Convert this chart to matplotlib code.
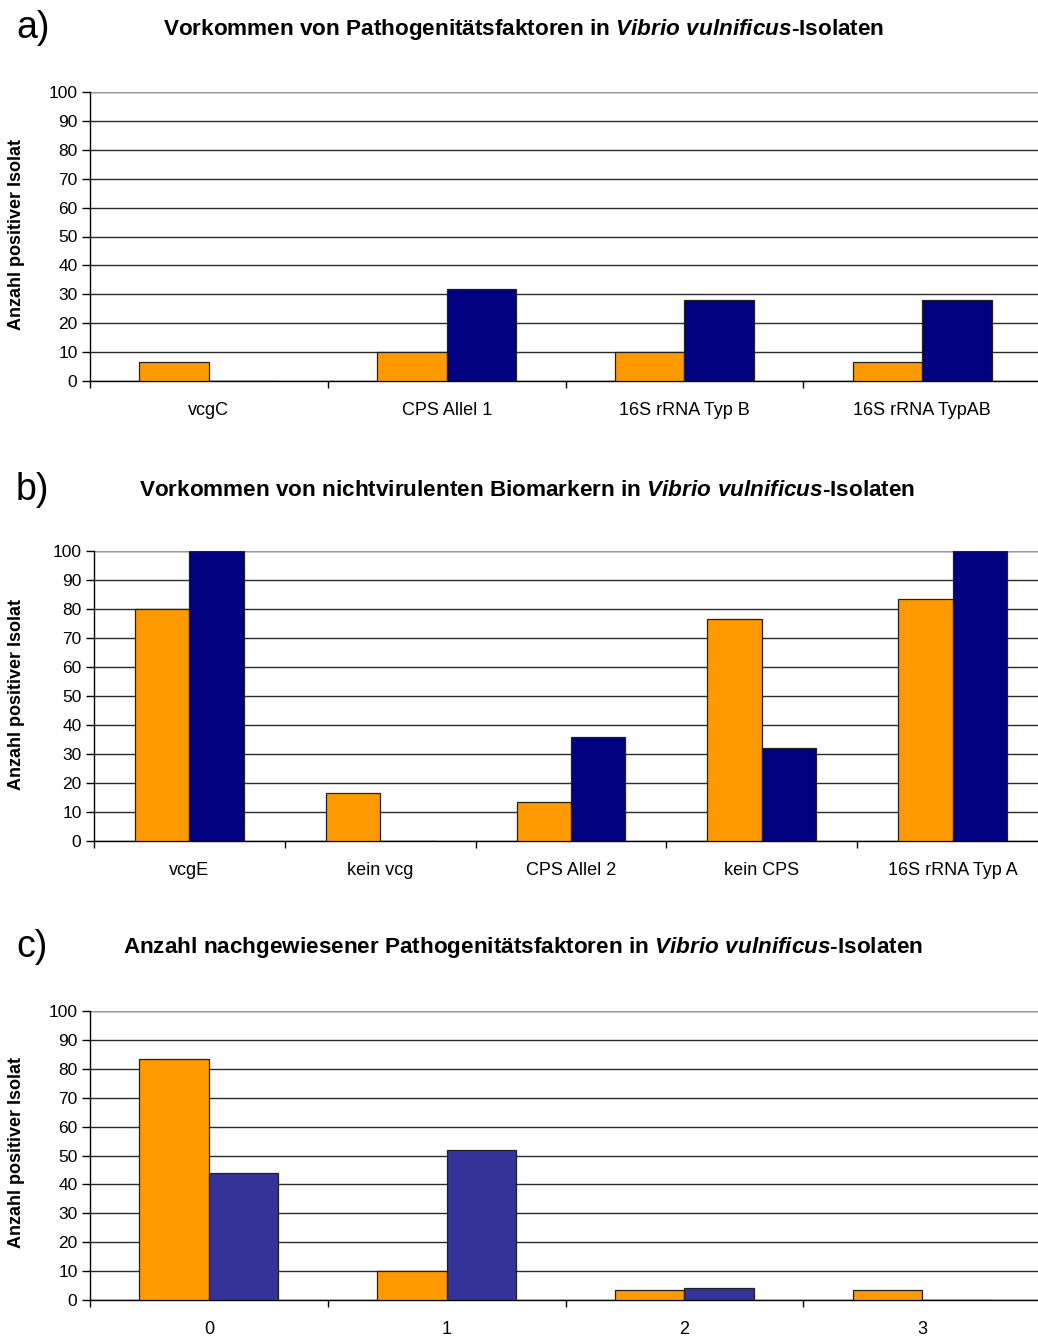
import matplotlib
matplotlib.use("Agg")
import matplotlib.pyplot as plt
import numpy as np

plt.rcParams['font.family'] = ['Liberation Sans', 'DejaVu Sans']
plt.rcParams['mathtext.fontset'] = 'custom'
plt.rcParams['mathtext.rm'] = 'Liberation Sans:bold'
plt.rcParams['mathtext.it'] = 'Liberation Sans:bold:italic'

# panel a
cats_a = ['vcgC', 'CPS Allel 1', '16S rRNA Typ B', '16S rRNA TypAB']
orange_a = [6.7, 10, 10, 6.7]
navy_a = [0, 32, 28, 28]
# panel b
cats_b = ['vcgE', 'kein vcg', 'CPS Allel 2', 'kein CPS', '16S rRNA Typ A']
orange_b = [80, 16.7, 13.3, 76.7, 83.3]
navy_b = [100, 0, 36, 32, 100]
# panel c
cats_c = ['0', '1', '2', '3']
orange_c = [83.3, 10, 3.3, 3.3]
navy_c = [44, 52, 4, 0]

titles = [
    r'Vorkommen von Pathogenitätsfaktoren in $\mathit{Vibrio\ vulnificus}$-Isolaten',
    r'Vorkommen von nichtvirulenten Biomarkern in $\mathit{Vibrio\ vulnificus}$-Isolaten',
    r'Anzahl nachgewiesener Pathogenitätsfaktoren in $\mathit{Vibrio\ vulnificus}$-Isolaten',
]
letters = ['a)', 'b)', 'c)']
yticks = np.arange(0, 101, 10)

W, H = 1038, 1336
ORANGE = '#FF9900'
NAVY = '#000080'
NAVY_C = '#333399'

fig = plt.figure(figsize=(W / 100, H / 100), dpi=100)
fig.patch.set_facecolor('white')


def px_axes(left, top, right, bottom):
    return fig.add_axes([left / W, 1 - bottom / H, (right - left) / W, (bottom - top) / H])


def bar_panel(ax, cats, orange, navy, width, navy_color):
    n = len(cats)
    x = np.arange(n)
    ax.bar(x - width / 2, orange, width, color=ORANGE, edgecolor='#202020',
           linewidth=0.9, zorder=3)
    ax.bar(x + width / 2, navy, width, color=navy_color, edgecolor='#202020',
           linewidth=0.9, zorder=3)
    ax.set_xlim(-0.5, n - 0.5)
    ax.set_ylim(0, 100)
    ax.set_yticks(yticks)
    ax.set_yticklabels([str(v) for v in yticks], fontsize=12.5)
    ax.yaxis.grid(True, color='#2a2a2a', linewidth=1.0, zorder=0)
    ax.set_axisbelow(True)
    # separator ticks between categories, labels centred on the groups
    ax.set_xticks(np.arange(n + 1) - 0.5)
    ax.set_xticklabels([])
    ax.set_xticks(x, minor=True)
    ax.set_xticklabels(cats, minor=True, fontsize=13)
    ax.tick_params(axis='x', which='major', length=5, width=1, direction='out')
    ax.tick_params(axis='x', which='minor', length=0, pad=15)
    ax.tick_params(axis='y', length=6, width=1, pad=3)
    for s in ['top', 'right']:
        ax.spines[s].set_visible(False)
    ax.spines['left'].set_linewidth(1)
    ax.spines['bottom'].set_linewidth(1)


panels = [
    (px_axes(90, 92, 1041, 381), cats_a, orange_a, navy_a, 0.292, NAVY),
    (px_axes(94, 551, 1048, 841), cats_b, orange_b, navy_b, 0.285, NAVY),
    (px_axes(90, 1011, 1041, 1300), cats_c, orange_c, navy_c, 0.292, NAVY_C),
]
for ax, cats, o, nv, w, col in panels:
    bar_panel(ax, cats, o, nv, w, col)
    # top border line at 100
    ax.axhline(100, color='#9a9a9a', linewidth=1.0, zorder=1)

title_pos = [(524, 30), (527, 490), (523, 948)]
letter_pos = [(16, 28), (16, 490), (16, 947)]
ylab_pos = [234, 694, 1153]
for t, (tx, ty), l, (lx, ly), yy in zip(titles, title_pos, letters, letter_pos, ylab_pos):
    fig.text(tx / W, 1 - ty / H, t, fontsize=16.2, fontweight='bold',
             ha='center', va='center')
    fig.text(lx / W, 1 - ly / H, l, fontsize=27, ha='left', va='center')
    fig.text(17 / W, 1 - yy / H, 'Anzahl positiver Isolat', fontsize=13,
             fontweight='bold', rotation=90, ha='center', va='center')

fig.savefig('out.png', dpi=100, facecolor='white')
